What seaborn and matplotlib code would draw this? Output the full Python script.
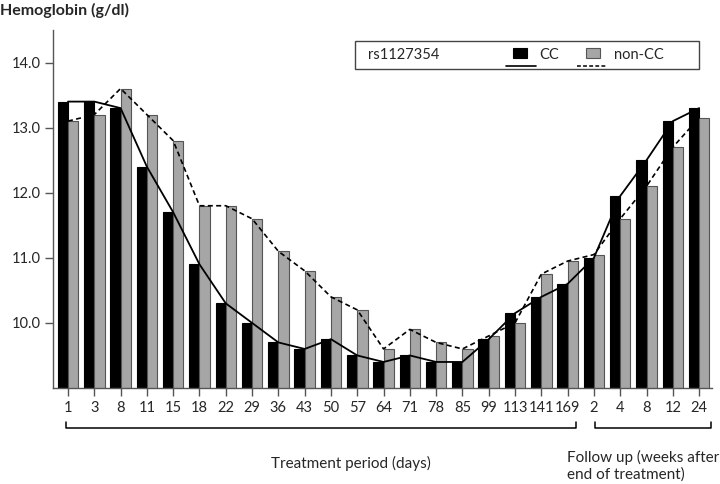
import pandas as pd
import seaborn as sns
import matplotlib.pyplot as plt
import matplotlib.transforms as mtransforms
from matplotlib.patches import Rectangle
from matplotlib.lines import Line2D

# tick labels (days of treatment, then weeks of follow-up)
tick_labels = ["1", "3", "8", "11", "15", "18", "22", "29", "36", "43", "50", "57", "64",
               "71", "78", "85", "99", "113", "141", "169", "2", "4", "8", "12", "24"]
cc_values = [13.4, 13.4, 13.3, 12.4, 11.7, 10.9, 10.3, 10.0, 9.7, 9.6, 9.75, 9.5, 9.4,
             9.5, 9.4, 9.4, 9.75, 10.15, 10.4, 10.6, 11.0, 11.95, 12.5, 13.1, 13.3]
noncc_values = [13.1, 13.2, 13.6, 13.2, 12.8, 11.8, 11.8, 11.6, 11.1, 10.8, 10.4, 10.2, 9.6,
                9.9, 9.7, 9.6, 9.8, 10.0, 10.75, 10.95, 11.05, 11.6, 12.1, 12.7, 13.15]
groups = ["CC", "non-CC"]
positions = list(range(len(tick_labels)))

df = pd.DataFrame({
    "pos": positions * 2,
    "hb": cc_values + noncc_values,
    "geno": [groups[0]] * len(positions) + [groups[1]] * len(positions),
})

sns.set_style("white")
plt.rcParams['font.family'] = ['Lato', 'DejaVu Sans']

fig = plt.figure(figsize=(7.2, 4.84), dpi=100)
ax = fig.add_axes([53 / 720, 1 - 388 / 484, 659 / 720, 358 / 484])

pal = {"CC": "#000000", "non-CC": "#a6a6a6"}
sns.barplot(data=df, x="pos", y="hb", hue="geno", palette=pal, width=0.78,
            saturation=1, ax=ax, legend=False, linewidth=0.8, edgecolor="#555555")
# black bars keep black edges
for p in ax.containers[0]:
    p.set_edgecolor("black")

ax.plot(positions, cc_values, color="black", lw=1.3)
ax.plot(positions, noncc_values, color="black", lw=1.2, ls=(0, (3, 2)))

ax.set_ylim(9.0, 14.5)
ax.set_xlim(-0.57, 24.49)
ax.set_yticks([10, 11, 12, 13, 14])
ax.set_yticklabels([f"{v:.1f}" for v in [10, 11, 12, 13, 14]], fontsize=10.5)
ax.set_xticks(positions)
ax.set_xticklabels(tick_labels, fontsize=10.5)
ax.set_xlabel("")
ax.set_ylabel("")
ax.tick_params(axis="both", direction="out", length=6, width=1, color="#555555",
               bottom=True, left=True, pad=3)
sns.despine(ax=ax)
for s in ["left", "bottom"]:
    ax.spines[s].set_color("#555555")
    ax.spines[s].set_linewidth(1)

fig.text(0.0, 1 - 10 / 484, "Hemoglobin (g/dl)", fontsize=11.5, fontweight="bold",
         ha="left", va="center")

# brackets under the axis
tr = mtransforms.blended_transform_factory(ax.transData, fig.transFigure)
yb = 1 - 428 / 484
yt = 1 - 422 / 484
for x0, x1 in [(-0.08, 19.3), (20.05, 24.46)]:
    ax.plot([x0, x0, x1, x1], [yt, yb, yb, yt], color="black", lw=1.1,
            transform=tr, clip_on=False)

fig.text(351 / 720, 1 - 463 / 484, "Treatment period (days)", fontsize=11,
         ha="center", va="center")
fig.text(567 / 720, 1 - 466 / 484, "Follow up (weeks after\nend of treatment)",
         fontsize=11, ha="left", va="center", linespacing=1.25)

# legend box
def fx(px):
    return px / 720

def fy(py):
    return 1 - py / 484

fig.patches.append(Rectangle((fx(355), fy(69)), fx(699) - fx(355), fy(41) - fy(69),
                             transform=fig.transFigure, facecolor="white",
                             edgecolor="#444444", lw=1))
fig.text(fx(368), fy(55), "rs1127354", fontsize=10.5, ha="left", va="center")
fig.patches.append(Rectangle((fx(513), fy(58)), fx(14), fy(48) - fy(58),
                             transform=fig.transFigure, facecolor="black",
                             edgecolor="black", lw=0.8))
fig.text(fx(539), fy(55), "CC", fontsize=10.5, ha="left", va="center")
fig.lines.append(Line2D([fx(506), fx(536)], [fy(66), fy(66)], color="black", lw=1.2,
                        transform=fig.transFigure))
fig.patches.append(Rectangle((fx(586), fy(58)), fx(14), fy(48) - fy(58),
                             transform=fig.transFigure, facecolor="#a6a6a6",
                             edgecolor="#555555", lw=0.8))
fig.text(fx(614), fy(55), "non-CC", fontsize=10.5, ha="left", va="center")
fig.lines.append(Line2D([fx(577), fx(606)], [fy(66), fy(66)], color="black", lw=1.1,
                        ls=(0, (2.5, 1.5)), transform=fig.transFigure))

fig.savefig("out.png", dpi=100)
